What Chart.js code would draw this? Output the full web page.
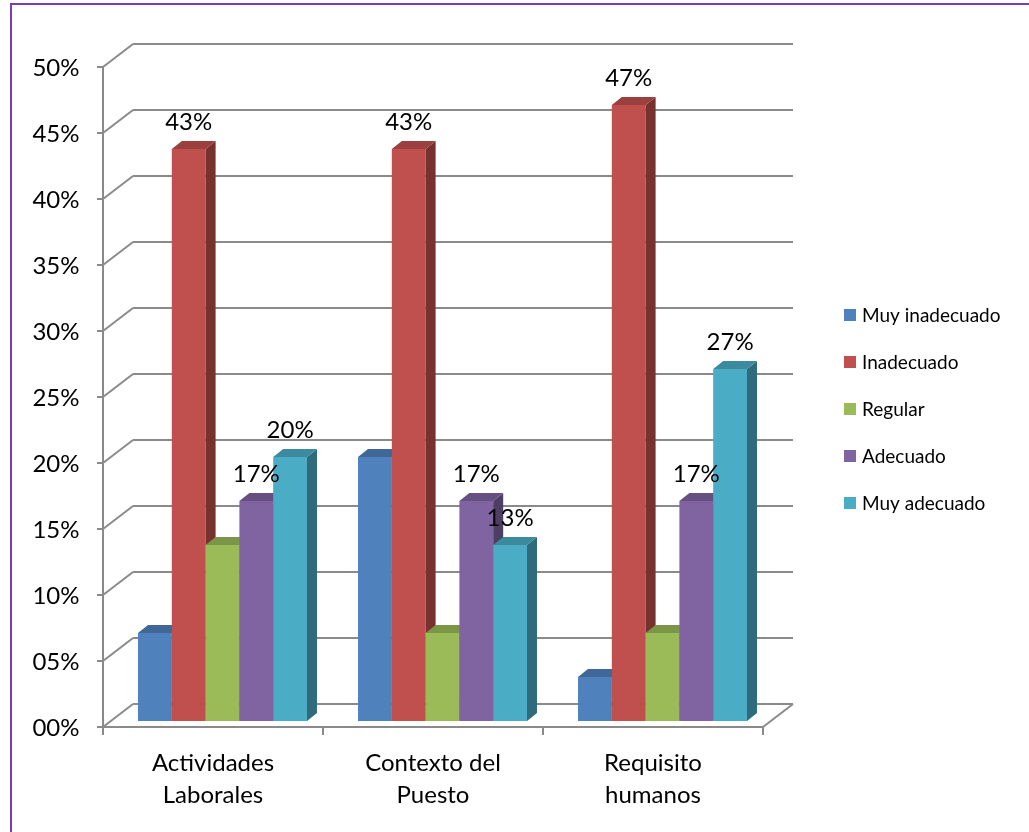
<!DOCTYPE html>
<html lang="es">
<head>
<meta charset="utf-8">
<title>Evaluación por dimensión</title>
<script src="https://cdn.jsdelivr.net/npm/chart.js@4.4.1/dist/chart.umd.min.js"></script>
<style>
  html, body { margin: 0; padding: 0; background: #ffffff; }
  canvas { display: block; }
</style>
</head>
<body>
<canvas id="chart" width="1029" height="832"></canvas>
<script>
// Categories (x axis) and the five response levels
const categories = [['Actividades', 'Laborales'], ['Contexto del', 'Puesto'], ['Requisito', 'humanos']];
const seriesNames = ['Muy inadecuado', 'Inadecuado', 'Regular', 'Adecuado', 'Muy adecuado'];

// Percentages per category
const muyInadecuado = [6.67, 20.00, 3.33];
const inadecuado    = [43.33, 43.33, 46.67];
const regular       = [13.33, 6.67, 6.67];
const adecuado      = [16.67, 16.67, 16.67];
const muyAdecuado   = [20.00, 13.33, 26.67];

// Series that carry a value label
const labeledSeries = ['Inadecuado', 'Adecuado', 'Muy adecuado'];

// Y axis range
const yMin = 0, yMax = 50, yStep = 5;

const seriesValues = [muyInadecuado, inadecuado, regular, adecuado, muyAdecuado];
const seriesColors = ['#4F81BD', '#C0504D', '#9BBB59', '#8064A2', '#4BACC6'];

const FONT = 'Lato, "Liberation Sans", sans-serif';
const GRID = '#8a8a8a';

// 3D projection offsets
const FRONT_DX = -9.5, FRONT_DY = 6;   // bar plane -> front plane of the box
const WALL_DX = 30, WALL_DY = -23;     // front plane -> back wall
const BAR_DX = 10, BAR_DY = -8;        // depth of each column

function shade(hex, f) {
  const n = parseInt(hex.slice(1), 16);
  const r = Math.round(((n >> 16) & 255) * f);
  const g = Math.round(((n >> 8) & 255) * f);
  const b = Math.round((n & 255) * f);
  return `rgb(${r},${g},${b})`;
}

function line(ctx, x1, y1, x2, y2) {
  ctx.beginPath();
  ctx.moveTo(x1, y1);
  ctx.lineTo(x2, y2);
  ctx.stroke();
}

function poly(ctx, pts, color) {
  ctx.beginPath();
  ctx.moveTo(pts[0][0], pts[0][1]);
  for (let i = 1; i < pts.length; i++) ctx.lineTo(pts[i][0], pts[i][1]);
  ctx.closePath();
  ctx.fillStyle = color;
  ctx.fill();
}

const box3d = {
  id: 'box3d',
  beforeDraw(chart) {
    const ctx = chart.ctx;
    ctx.save();
    ctx.fillStyle = '#ffffff';
    ctx.fillRect(0, 0, chart.width, chart.height);
    ctx.restore();
  },
  beforeDatasetsDraw(chart) {
    const ctx = chart.ctx;
    const ys = chart.scales.y, xs = chart.scales.x;
    const area = chart.chartArea;
    const fl = area.left + FRONT_DX, fr = area.right + FRONT_DX;

    ctx.save();
    ctx.strokeStyle = GRID;
    ctx.lineWidth = 2;
    ctx.lineCap = 'butt';

    // back wall lines, side-wall diagonals, front ticks
    ys.ticks.forEach(t => {
      const fy = ys.getPixelForValue(t.value) + FRONT_DY;
      line(ctx, fl, fy, fl + WALL_DX, fy + WALL_DY);
      line(ctx, fl + WALL_DX, fy + WALL_DY, fr + WALL_DX, fy + WALL_DY);
      line(ctx, fl - 6, fy, fl, fy);
    });

    // front vertical axis
    const fTop = ys.getPixelForValue(yMax) + FRONT_DY;
    const f0 = ys.getPixelForValue(yMin) + FRONT_DY;
    line(ctx, fl, fTop, fl, f0);

    // floor front and right edges
    line(ctx, fl, f0, fr, f0);
    line(ctx, fr, f0, fr + WALL_DX, f0 + WALL_DY);

    // category separators
    const step = xs.getPixelForValue(1) - xs.getPixelForValue(0);
    for (let i = 0; i <= categories.length; i++) {
      const cx = xs.getPixelForValue(0) - step / 2 + i * step + FRONT_DX;
      line(ctx, cx, f0, cx, f0 + 8);
    }
    ctx.restore();

    // columns, drawn left to right so each one hides the side of its neighbour
    chart.data.datasets.forEach((ds, di) => {
      const meta = chart.getDatasetMeta(di);
      const base = ds.backgroundColor;
      meta.data.forEach(el => {
        const p = el.getProps(['x', 'y', 'base', 'width'], true);
        const x0 = p.x - p.width / 2, x1 = p.x + p.width / 2;
        el.draw(ctx);
        poly(ctx, [[x1, p.y], [x1 + BAR_DX, p.y + BAR_DY], [x1 + BAR_DX, p.base + BAR_DY], [x1, p.base]], shade(base, 0.62));
        poly(ctx, [[x0, p.y], [x1, p.y], [x1 + BAR_DX, p.y + BAR_DY], [x0 + BAR_DX, p.y + BAR_DY]], shade(base, 0.8));
      });
    });
    return false;
  },
  afterDraw(chart) {
    const ctx = chart.ctx;
    ctx.save();

    // value labels
    ctx.fillStyle = '#000000';
    ctx.font = `24px ${FONT}`;
    ctx.textAlign = 'center';
    ctx.textBaseline = 'middle';
    chart.data.datasets.forEach((ds, di) => {
      if (!labeledSeries.includes(ds.label)) return;
      chart.getDatasetMeta(di).data.forEach((el, i) => {
        const p = el.getProps(['x', 'y'], true);
        ctx.fillText(Math.round(ds.data[i]) + '%', p.x, p.y - 27);
      });
    });

    // legend
    ctx.font = `19px ${FONT}`;
    ctx.textAlign = 'left';
    chart.data.datasets.forEach((ds, di) => {
      const cy = 315 + di * 47;
      ctx.fillStyle = ds.backgroundColor;
      ctx.fillRect(844, cy - 6, 12, 12);
      ctx.fillStyle = '#000000';
      ctx.fillText(ds.label, 862, cy + 1);
    });

    // outer frame
    ctx.strokeStyle = '#7a3db8';
    ctx.lineWidth = 2;
    ctx.strokeRect(11, 4, chart.width + 20, chart.height + 20);
    ctx.restore();
  }
};

new Chart(document.getElementById('chart'), {
  type: 'bar',
  data: {
    labels: categories,
    datasets: seriesNames.map((name, i) => ({
      label: name,
      data: seriesValues[i],
      backgroundColor: seriesColors[i],
      borderWidth: 0,
      categoryPercentage: 0.768,
      barPercentage: 1.0
    }))
  },
  options: {
    responsive: false,
    animation: false,
    layout: { padding: { top: 61, left: 12.5, right: 256.5, bottom: 11 } },
    plugins: {
      legend: { display: false },
      tooltip: { enabled: false }
    },
    scales: {
      x: {
        grid: { display: false },
        border: { display: false },
        afterFit(scale) { scale.height = 100; },
        ticks: {
          color: '#000000',
          font: { family: FONT, size: 24, lineHeight: 1.33 },
          padding: 18,
          labelOffset: FRONT_DX,
          maxRotation: 0,
          autoSkip: false
        }
      },
      y: {
        min: yMin,
        max: yMax,
        grid: { display: false },
        border: { display: false },
        afterFit(scale) { scale.width = 100; },
        ticks: {
          stepSize: yStep,
          color: '#000000',
          font: { family: FONT, size: 24 },
          padding: 25,
          labelOffset: FRONT_DY + 1,
          callback: v => String(v).padStart(2, '0') + '%'
        }
      }
    }
  },
  plugins: [box3d]
});
</script>
</body>
</html>
